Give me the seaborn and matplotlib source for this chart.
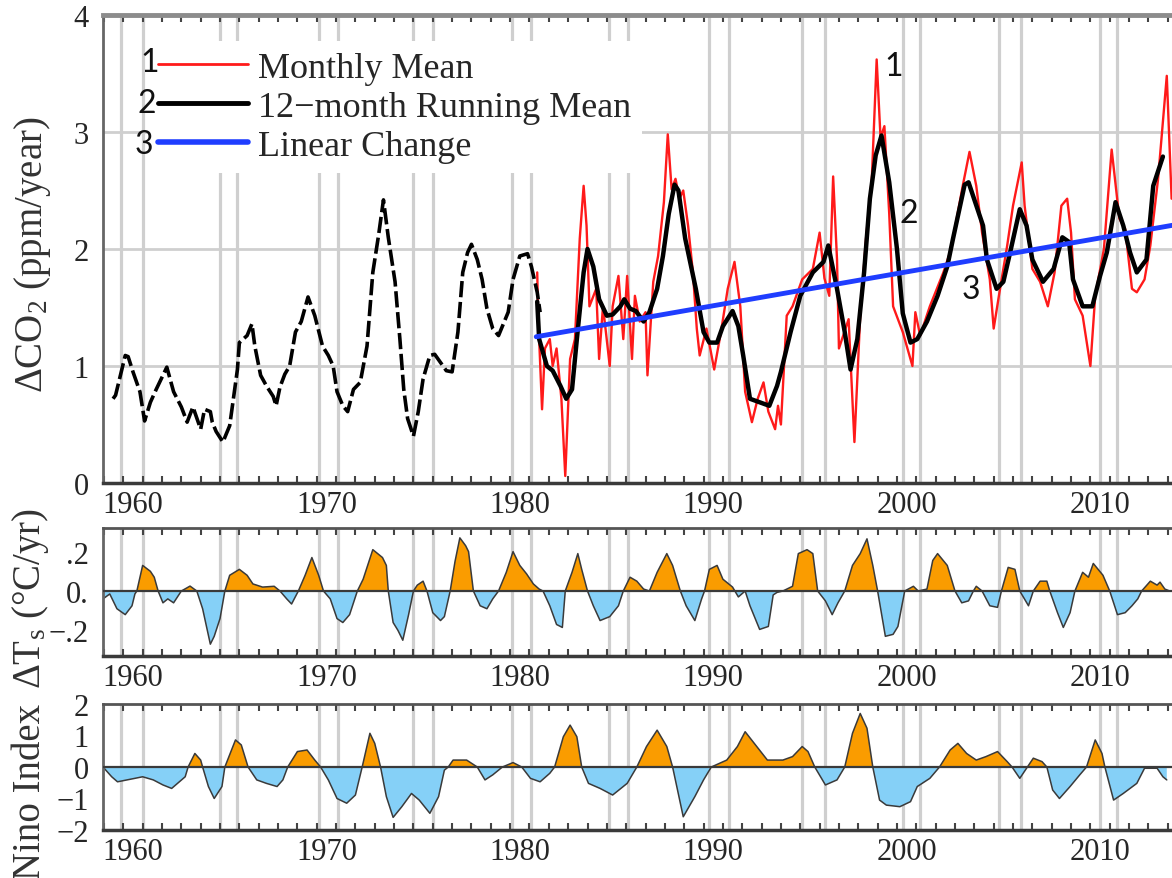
import numpy as np
import pandas as pd
import matplotlib
matplotlib.use("Agg")
import matplotlib.pyplot as plt
from matplotlib.lines import Line2D
import seaborn as sns

# ---------------------------------------------------------------------------
# Data
# ---------------------------------------------------------------------------
# early CO2 growth rate, 12-month running mean (dashed)
early_year = [1958.97, 1959.1, 1959.6, 1959.75, 1960.0, 1960.36, 1960.6, 1960.9, 1961.2, 1961.75,
              1962.1, 1962.5, 1962.8, 1963.1, 1963.5, 1963.7, 1964.0, 1964.1, 1964.3, 1964.65,
              1965.0, 1965.4, 1965.5, 1965.9, 1966.15, 1966.3, 1966.6, 1966.9, 1967.25, 1967.4,
              1967.6, 1967.85, 1968.1, 1968.4, 1968.7, 1969.05, 1969.4, 1969.8, 1970.1, 1970.35,
              1970.55, 1970.85, 1971.1, 1971.4, 1971.75, 1972.1, 1972.4, 1972.7, 1972.95, 1973.2,
              1973.55, 1973.8, 1974.0, 1974.2, 1974.5, 1974.75, 1975.0, 1975.35, 1975.6, 1975.9,
              1976.2, 1976.5, 1976.8, 1977.05, 1977.3, 1977.5, 1977.8, 1978.05, 1978.3, 1978.6,
              1978.9, 1979.1, 1979.4, 1979.65, 1980.0, 1980.4, 1980.6, 1980.9, 1981.05]
early_co2 = [0.72, 0.75, 1.09, 1.08, 0.95, 0.78, 0.53, 0.69, 0.80, 0.99,
             0.78, 0.65, 0.52, 0.65, 0.46, 0.63, 0.61, 0.52, 0.44, 0.35,
             0.49, 0.97, 1.20, 1.26, 1.36, 1.17, 0.92, 0.83, 0.74, 0.66,
             0.82, 0.93, 1.00, 1.29, 1.38, 1.59, 1.43, 1.17, 1.09, 1.00,
             0.78, 0.66, 0.61, 0.80, 0.86, 1.17, 1.80, 2.12, 2.42, 2.10,
             1.72, 1.23, 0.80, 0.55, 0.40, 0.61, 0.89, 1.09, 1.10, 1.03,
             0.96, 0.95, 1.29, 1.80, 1.97, 2.04, 1.91, 1.74, 1.49, 1.32,
             1.26, 1.34, 1.46, 1.74, 1.94, 1.96, 1.85, 1.63, 1.46]

# monthly mean (red)
monthly_year = [1980.9, 1980.95, 1981.15, 1981.3, 1981.55, 1981.7, 1981.9, 1982.15, 1982.35, 1982.6,
                1982.85, 1983.1, 1983.3, 1983.45, 1983.6, 1983.95, 1984.1, 1984.3, 1984.65, 1984.8,
                1985.1, 1985.35, 1985.55, 1985.8, 1985.95, 1986.2, 1986.5, 1986.6, 1986.9, 1987.15,
                1987.45, 1987.65, 1987.85, 1988.05, 1988.25, 1988.45, 1988.7, 1988.95, 1989.15, 1989.3,
                1989.65, 1990.05, 1990.4, 1990.75, 1991.1, 1991.4, 1991.65, 1992.0, 1992.3, 1992.6,
                1992.85, 1993.2, 1993.35, 1993.5, 1993.8, 1994.1, 1994.6, 1995.15, 1995.5, 1995.75,
                1996.0, 1996.2, 1996.4, 1996.5, 1997.0, 1997.3, 1997.6, 1997.9, 1998.2, 1998.45,
                1998.65, 1998.85, 1999.1, 1999.3, 1999.8, 2000.3, 2000.45, 2000.7, 2001.2, 2001.9,
                2002.3, 2002.9, 2003.25, 2003.6, 2003.9, 2004.3, 2004.5, 2004.8, 2005.2, 2005.5,
                2005.95, 2006.1, 2006.5, 2006.9, 2007.3, 2007.65, 2008.0, 2008.3, 2008.5, 2008.7,
                2009.1, 2009.5, 2009.75, 2010.2, 2010.6, 2011.0, 2011.3, 2011.65, 2011.9, 2012.3,
                2012.6, 2013.0, 2013.45, 2013.7]
monthly_co2 = [1.80, 1.43, 0.63, 1.15, 1.23, 1.00, 1.15, 0.72, 0.06, 1.06,
               1.23, 2.09, 2.54, 2.20, 1.51, 1.66, 1.06, 1.51, 1.00, 1.51,
               1.77, 1.23, 1.77, 1.06, 1.60, 1.38, 1.46, 0.92, 1.72, 1.94,
               2.40, 2.98, 2.51, 2.60, 2.43, 2.50, 2.20, 1.80, 1.32, 1.09,
               1.32, 0.97, 1.29, 1.66, 1.89, 1.51, 0.78, 0.52, 0.72, 0.86,
               0.61, 0.46, 0.66, 0.50, 1.43, 1.51, 1.74, 1.83, 2.14, 1.75,
               1.60, 2.62, 1.91, 1.15, 1.40, 0.35, 1.43, 2.09, 2.60, 3.62,
               2.95, 3.05, 2.30, 1.51, 1.29, 1.00, 1.46, 1.26, 1.51, 1.80,
               2.00, 2.54, 2.83, 2.54, 2.14, 1.74, 1.32, 1.63, 2.03, 2.37,
               2.74, 2.37, 1.83, 1.72, 1.51, 1.80, 2.37, 2.43, 2.14, 1.57,
               1.43, 1.00, 1.60, 2.00, 2.85, 2.26, 2.17, 1.66, 1.63, 1.74,
               2.03, 2.60, 3.48, 2.43]

# 12-month running mean (solid black)
running_year = [1980.9, 1981.0, 1981.4, 1981.7, 1982.1, 1982.4, 1982.7, 1982.95, 1983.3, 1983.5,
                1983.8, 1984.1, 1984.5, 1984.8, 1985.2, 1985.4, 1985.7, 1986.0, 1986.4, 1986.7,
                1987.1, 1987.4, 1987.7, 1988.0, 1988.2, 1988.55, 1989.1, 1989.5, 1989.8, 1990.2,
                1990.5, 1991.0, 1991.3, 1991.55, 1991.9, 1992.4, 1992.9, 1993.3, 1993.5, 1994.0,
                1994.5, 1995.15, 1995.7, 1995.95, 1996.4, 1996.8, 1997.1, 1997.45, 1997.8, 1998.1,
                1998.4, 1998.7, 1999.1, 1999.5, 1999.8, 2000.2, 2000.55, 2001.05, 2001.6, 2002.1,
                2002.4, 2003.0, 2003.2, 2003.95, 2004.15, 2004.65, 2005.0, 2005.35, 2005.85, 2006.2,
                2006.5, 2007.05, 2007.6, 2008.05, 2008.4, 2008.6, 2009.1, 2009.6, 2010.0, 2010.35,
                2010.8, 2011.2, 2011.55, 2011.9, 2012.4, 2012.75, 2013.25]
running_co2 = [1.55, 1.23, 1.00, 0.96, 0.83, 0.72, 0.80, 1.23, 1.80, 2.00,
               1.85, 1.57, 1.43, 1.44, 1.51, 1.57, 1.49, 1.47, 1.38, 1.46,
               1.66, 1.94, 2.30, 2.55, 2.50, 2.09, 1.66, 1.29, 1.20, 1.20,
               1.34, 1.47, 1.34, 1.09, 0.72, 0.69, 0.66, 0.83, 0.95, 1.29,
               1.60, 1.80, 1.89, 2.03, 1.66, 1.29, 0.97, 1.23, 1.80, 2.43,
               2.80, 2.97, 2.57, 2.00, 1.45, 1.20, 1.23, 1.38, 1.60, 1.85,
               2.09, 2.55, 2.57, 2.20, 1.91, 1.66, 1.72, 1.97, 2.34, 2.20,
               1.91, 1.72, 1.83, 2.10, 2.06, 1.74, 1.51, 1.51, 1.77, 1.97,
               2.40, 2.20, 1.97, 1.80, 1.91, 2.54, 2.79]

# linear change (blue)
linear_year = [1980.85, 2014.0]
linear_co2 = [1.25, 2.21]

# surface temperature tendency
ts_year = [1958.45, 1958.8, 1959.17, 1959.6, 1959.95, 1960.1, 1960.2, 1960.5, 1960.9, 1961.1,
           1961.3, 1961.55, 1961.8, 1962.1, 1962.3, 1962.5, 1962.95, 1963.3, 1963.6, 1964.0,
           1964.2, 1964.5, 1964.75, 1965.0, 1965.5, 1965.9, 1966.2, 1966.7, 1967.3, 1967.6,
           1967.95, 1968.2, 1968.55, 1968.9, 1969.25, 1969.6, 1969.85, 1970.2, 1970.55, 1970.85,
           1971.2, 1971.6, 1971.9, 1972.4, 1972.9, 1973.1, 1973.2, 1973.45, 1973.7, 1973.95,
           1974.25, 1974.5, 1974.7, 1975.0, 1975.2, 1975.5, 1975.9, 1976.1, 1976.4, 1976.65,
           1976.9, 1977.2, 1977.35, 1977.6, 1977.95, 1978.3, 1978.6, 1978.9, 1979.3, 1979.65,
           1980.0, 1980.35, 1980.7, 1981.0, 1981.2, 1981.55, 1981.9, 1982.2, 1982.35, 1982.7,
           1983.0, 1983.2, 1983.5, 1983.8, 1984.15, 1984.65, 1985.1, 1985.35, 1985.7, 1986.05,
           1986.4, 1986.7, 1987.1, 1987.6, 1987.9, 1988.3, 1988.6, 1989.05, 1989.4, 1989.55,
           1989.8, 1990.2, 1990.5, 1991.0, 1991.3, 1991.65, 1991.9, 1992.4, 1992.85, 1993.1,
           1993.3, 1993.6, 1994.1, 1994.4, 1994.85, 1995.15, 1995.4, 1995.8, 1996.15, 1996.45,
           1996.8, 1997.2, 1997.6, 1997.95, 1998.25, 1998.5, 1998.9, 1999.3, 1999.55, 1999.9,
           2000.35, 2000.6, 2001.05, 2001.35, 2001.6, 2002.1, 2002.5, 2002.85, 2003.2, 2003.45,
           2003.6, 2003.9, 2004.3, 2004.7, 2004.9, 2005.25, 2005.6, 2005.85, 2006.3, 2006.55,
           2006.9, 2007.25, 2007.4, 2007.8, 2008.1, 2008.45, 2008.7, 2009.1, 2009.4, 2009.65,
           2010.15, 2010.5, 2010.9, 2011.3, 2011.65, 2011.95, 2012.15, 2012.6, 2012.95, 2013.1,
           2013.35, 2013.6]
ts_val = [-0.04, -0.015, -0.09, -0.12, -0.075, -0.015, 0.0, 0.13, 0.10, 0.07,
          0.0, -0.06, -0.04, -0.06, -0.03, 0.0, 0.025, 0.0, -0.09, -0.27,
          -0.23, -0.14, 0.0, 0.08, 0.11, 0.08, 0.036, 0.02, 0.024, 0.0,
          -0.04, -0.066, 0.0, 0.08, 0.17, 0.08, 0.0, -0.04, -0.14, -0.16,
          -0.12, 0.0, 0.06, 0.21, 0.17, 0.13, 0.0, -0.16, -0.20, -0.25,
          -0.12, 0.0, 0.03, 0.05, 0.0, -0.11, -0.15, -0.13, 0.0, 0.15,
          0.27, 0.23, 0.20, 0.0, -0.075, -0.09, -0.04, 0.0, 0.095, 0.20,
          0.13, 0.087, 0.036, 0.01, 0.0, -0.075, -0.17, -0.185, 0.0, 0.095,
          0.19, 0.11, 0.0, -0.075, -0.15, -0.13, -0.075, 0.0, 0.07, 0.05,
          0.01, 0.0, 0.095, 0.19, 0.13, 0.0, -0.075, -0.15, -0.04, 0.0,
          0.11, 0.13, 0.06, 0.02, -0.03, 0.0, -0.075, -0.195, -0.18, -0.02,
          -0.007, 0.0, 0.024, 0.19, 0.21, 0.19, 0.0, -0.05, -0.12, -0.06,
          0.0, 0.13, 0.19, 0.265, 0.13, 0.0, -0.23, -0.22, -0.18, 0.0,
          0.024, 0.0, 0.01, 0.155, 0.19, 0.13, 0.0, -0.06, -0.05, 0.0,
          0.024, 0.0, -0.075, -0.083, 0.0, 0.12, 0.11, 0.0, -0.075, 0.0,
          0.05, 0.05, 0.0, -0.11, -0.185, -0.11, 0.0, 0.095, 0.07, 0.14,
          0.08, 0.0, -0.12, -0.11, -0.075, -0.04, 0.0, 0.05, 0.03, 0.045,
          0.01, 0.0]

# Nino index
nino_year = [1958.45, 1958.9, 1959.2, 1959.7, 1960.1, 1960.5, 1961.05, 1961.55, 1962.0, 1962.4,
             1962.7, 1962.85, 1963.2, 1963.5, 1963.6, 1963.9, 1964.2, 1964.6, 1964.75, 1965.3,
             1965.6, 1965.95, 1966.4, 1966.9, 1967.45, 1967.75, 1968.0, 1968.5, 1969.0, 1969.4,
             1969.7, 1970.1, 1970.55, 1971.05, 1971.5, 1971.85, 1972.25, 1972.5, 1972.8, 1973.1,
             1973.45, 1973.9, 1974.4, 1974.8, 1975.35, 1975.8, 1976.1, 1976.3, 1976.55, 1977.25,
             1977.8, 1978.2, 1978.6, 1979.1, 1979.65, 1980.1, 1980.55, 1981.05, 1981.55, 1981.8,
             1982.25, 1982.6, 1982.95, 1983.2, 1983.55, 1984.15, 1984.8, 1985.55, 1986.05, 1986.55,
             1987.1, 1987.6, 1987.9, 1988.45, 1989.05, 1989.5, 1989.9, 1990.7, 1991.25, 1991.65,
             1992.25, 1992.8, 1993.3, 1993.6, 1994.1, 1994.6, 1994.9, 1995.25, 1995.8, 1996.4,
             1996.8, 1997.2, 1997.6, 1997.95, 1998.25, 1998.6, 1998.95, 1999.65, 2000.2, 2000.55,
             2001.2, 2001.7, 2002.25, 2002.65, 2003.1, 2003.6, 2004.1, 2004.7, 2005.2, 2005.45,
             2005.85, 2006.2, 2006.55, 2007.0, 2007.25, 2007.55, 2007.9, 2008.45, 2008.95, 2009.3,
             2009.75, 2010.1, 2010.25, 2010.7, 2011.2, 2011.9, 2012.3, 2012.95, 2013.25, 2013.45]
nino_val = [0.0, -0.31, -0.47, -0.41, -0.36, -0.31, -0.41, -0.57, -0.68, -0.47,
            -0.31, 0.0, 0.43, 0.22, 0.0, -0.62, -1.0, -0.62, 0.0, 0.86,
            0.70, 0.0, -0.41, -0.52, -0.62, -0.41, 0.0, 0.49, 0.54, 0.22,
            0.0, -0.41, -1.0, -1.15, -0.89, 0.0, 1.07, 0.75, 0.0, -0.94,
            -1.60, -1.26, -0.84, -1.05, -1.47, -0.94, -0.10, 0.0, 0.22, 0.22,
            0.0, -0.41, -0.25, 0.0, 0.14, 0.0, -0.36, -0.47, -0.20, 0.0,
            0.96, 1.33, 0.96, 0.0, -0.52, -0.68, -0.89, -0.52, 0.0, 0.65,
            1.17, 0.65, 0.0, -1.58, -0.94, -0.41, 0.0, 0.22, 0.65, 1.12,
            0.65, 0.22, 0.22, 0.22, 0.33, 0.65, 0.49, 0.0, -0.57, -0.41,
            0.0, 1.07, 1.70, 1.23, 0.0, -1.05, -1.21, -1.26, -1.10, -0.62,
            -0.36, 0.0, 0.54, 0.75, 0.43, 0.22, 0.33, 0.49, 0.17, 0.0,
            -0.36, -0.04, 0.28, 0.17, 0.0, -0.73, -1.00, -0.62, -0.25, 0.0,
            0.86, 0.43, 0.0, -1.05, -0.84, -0.52, -0.04, -0.04, -0.31, -0.41]

# vertical grid lines and axis labels
grid_years = [1959.4, 1960.5, 1964.5, 1965.4, 1969.6, 1970.6, 1974.5, 1975.5, 1979.6, 1980.6,
              1984.6, 1985.6, 1989.8, 1990.8, 1994.6, 1995.8, 1999.8, 2000.7, 2004.8, 2005.9,
              2010.0, 2010.9]
decades = [1960, 1970, 1980, 1990, 2000, 2010]
legend_labels = ['Monthly Mean', '12\u2212month Running Mean', 'Linear Change']

# ---------------------------------------------------------------------------
# Style
# ---------------------------------------------------------------------------
sns.set_style("white")
plt.rcParams['font.family'] = ['Liberation Serif', 'DejaVu Serif']
plt.rcParams['mathtext.fontset'] = 'custom'
plt.rcParams['mathtext.rm'] = 'Liberation Serif'
plt.rcParams['mathtext.it'] = 'Liberation Serif:italic'

RED = '#ff1a1a'
BLUE = '#1f3dff'
ORANGE = '#fa9c00'
SKY = '#85d0f7'
GRID = '#cfcfcf'
TXT = '#262626'

W, H = 1172, 879
fig = plt.figure(figsize=(W / 100, H / 100), dpi=100)
left, width = 103 / W, 1075 / W
ax1 = fig.add_axes([left, 1 - 484 / H, width, 468 / H])
ax2 = fig.add_axes([left, 1 - 657 / H, width, 128 / H])
ax3 = fig.add_axes([left, 1 - 831 / H, width, 126 / H])

for ax in (ax1, ax2, ax3):
    for g in grid_years:
        ax.axvline(g, color=GRID, lw=2.3, zorder=0)
    ax.set_xlim(1958.45, 2014.03)
    ax.set_xticks(decades)
    ax.set_xticklabels([str(d) for d in decades])
    ax.set_xticks(np.arange(1958.5, 2014, 1.0), minor=True)
    ax.tick_params(axis='x', which='major', length=0, labelsize=22, colors=TXT, pad=5)
    ax.tick_params(axis='x', which='minor', direction='in', length=5, width=1.5,
                   top=True, bottom=True, color='#444444')
    ax.tick_params(axis='y', which='major', direction='in', length=4, labelsize=22,
                   colors=TXT, pad=10)
    ax.spines['right'].set_visible(False)
    ax.spines['left'].set_color('#666666')
    ax.spines['left'].set_linewidth(2)
    ax.spines['bottom'].set_color('#3a3a3a')
    ax.spines['bottom'].set_linewidth(2.5)
    ax.spines['top'].set_color('#555555')
    ax.spines['top'].set_linewidth(2)

# ---------------------------------------------------------------------------
# Panel 1: CO2 growth rate
# ---------------------------------------------------------------------------
for v in (1, 2, 3):
    ax1.axhline(v, color=GRID, lw=2, zorder=0)

early = pd.DataFrame({'year': early_year, 'co2': early_co2})
monthly = pd.DataFrame({'year': monthly_year, 'co2': monthly_co2})
running = pd.DataFrame({'year': running_year, 'co2': running_co2})
linear = pd.DataFrame({'year': linear_year, 'co2': linear_co2})

sns.lineplot(data=early, x='year', y='co2', ax=ax1, color='black', lw=2.6,
             linestyle=(0, (4.5, 1.3)), zorder=3)
sns.lineplot(data=monthly, x='year', y='co2', ax=ax1, color=RED, lw=1.7, zorder=2)
sns.lineplot(data=running, x='year', y='co2', ax=ax1, color='black', lw=3.2, zorder=3)
sns.lineplot(data=linear, x='year', y='co2', ax=ax1, color=BLUE, lw=3.5, zorder=4)

ax1.set_ylim(0, 4)
ax1.set_yticks([0, 1, 2, 3, 4])
ax1.set_yticklabels(['0', '1', '2', '3', '4'])
ax1.tick_params(axis='y', length=0)
ax1.spines['top'].set_color('#8c8c8c')
ax1.spines['top'].set_linewidth(3.5)
ax1.set_xlabel('')
ax1.set_ylabel('')

handles = [Line2D([], [], color=RED, lw=2),
           Line2D([], [], color='black', lw=3.5),
           Line2D([], [], color=BLUE, lw=4)]
leg = ax1.legend(handles, legend_labels, loc='upper left',
                 bbox_to_anchor=((147 - 103) / 1075, (484 - 42) / 468),
                 fontsize=26, frameon=True, fancybox=False, framealpha=1,
                 edgecolor='none', facecolor='white', handlelength=2.49,
                 handletextpad=0.28, labelspacing=0.15, borderpad=0.3, borderaxespad=0)
for t in leg.get_texts():
    t.set_color(TXT)

num_font = ['Lato', 'DejaVu Sans']
for x, y, s in [(1960.88, 3.60, '1'), (1960.72, 3.25, '2'), (1960.57, 2.90, '3'),
                (1999.35, 3.56, '1'), (2000.1, 2.31, '2'), (2003.3, 1.66, '3')]:
    ax1.text(x, y, s, fontsize=23, family=num_font, color='#111111',
             ha='center', va='center', zorder=10)

# ---------------------------------------------------------------------------
# Panel 2: surface temperature tendency
# ---------------------------------------------------------------------------
ts = pd.DataFrame({'year': ts_year, 'val': ts_val})
x2, y2 = np.array(ts_year), np.array(ts_val)
ax2.fill_between(x2, y2, 0, where=y2 >= 0, interpolate=True, color=ORANGE, lw=0, zorder=1)
ax2.fill_between(x2, y2, 0, where=y2 <= 0, interpolate=True, color=SKY, lw=0, zorder=1)
sns.lineplot(data=ts, x='year', y='val', ax=ax2, color='#3a3a3a', lw=1.1, zorder=2)
ax2.axhline(0, color='#3a3a3a', lw=1.6, zorder=3)
ax2.set_ylim(-0.33, 0.32)
ax2.set_yticks([-0.2, 0, 0.2])
ax2.set_yticklabels(['\u2212.2', '0.', '.2'])
ax2.set_xlabel('')
ax2.set_ylabel('')

# ---------------------------------------------------------------------------
# Panel 3: Nino index
# ---------------------------------------------------------------------------
nino = pd.DataFrame({'year': nino_year, 'val': nino_val})
x3, y3 = np.array(nino_year), np.array(nino_val)
ax3.fill_between(x3, y3, 0, where=y3 >= 0, interpolate=True, color=ORANGE, lw=0, zorder=1)
ax3.fill_between(x3, y3, 0, where=y3 <= 0, interpolate=True, color=SKY, lw=0, zorder=1)
sns.lineplot(data=nino, x='year', y='val', ax=ax3, color='#3a3a3a', lw=1.1, zorder=2)
ax3.axhline(0, color='#3a3a3a', lw=1.6, zorder=3)
ax3.set_ylim(-2, 2)
ax3.set_yticks([-2, -1, 0, 1, 2])
ax3.set_yticklabels(['\u22122', '\u22121', '0', '1', '2'])
ax3.set_xlabel('')
ax3.set_ylabel('')

# y labels
fig.text(33 / W, 1 - 255 / H, r'ΔCO$_2$ (ppm/year)', rotation=90, fontsize=28,
         color='#333333', ha='center', va='center')
fig.text(31 / W, 1 - 598 / H, r'ΔT$_\mathrm{s}$ (°C/yr)', rotation=90, fontsize=28,
         color='#333333', ha='center', va='center')
fig.text(31 / W, 1 - 792 / H, 'Nino Index', rotation=90, fontsize=28,
         color='#333333', ha='center', va='center')

fig.savefig('out.png', dpi=100, facecolor='white')
